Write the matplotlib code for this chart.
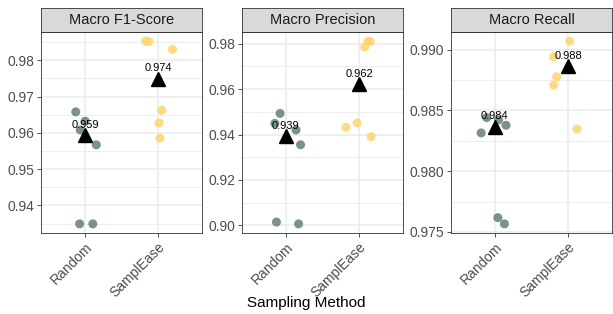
# Sampling method comparison: Random vs SamplEase, three macro metrics
import numpy as np
import matplotlib.pyplot as plt

plt.rcParams['font.family'] = ['Liberation Sans', 'DejaVu Sans']

methods = ["Random", "SamplEase"]
metrics = ["Macro F1-Score", "Macro Precision", "Macro Recall"]

# per-run scores (jitter offsets)
f1_random = [0.9658, 0.9632, 0.9608, 0.9567, 0.9349, 0.9349]
f1_random_jit = [-0.125, 0.004, -0.063, 0.156, -0.072, 0.108]
f1_samplease = [0.9853, 0.9852, 0.9830, 0.9662, 0.9627, 0.9586]
f1_samplease_jit = [-0.169, -0.125, 0.197, 0.05, 0.013, 0.027]

prec_random = [0.9493, 0.9449, 0.9420, 0.9355, 0.9015, 0.9007]
prec_random_jit = [-0.08, -0.151, 0.138, 0.2, -0.129, 0.173]
prec_samplease = [0.9811, 0.9809, 0.9785, 0.9432, 0.9451, 0.9391]
prec_samplease_jit = [0.12, 0.151, 0.076, -0.182, -0.027, 0.164]

rec_random = [0.98315, 0.98441, 0.98422, 0.98378, 0.97617, 0.97566]
rec_random_jit = [-0.188, -0.112, 0.049, 0.152, 0.04, 0.13]
rec_samplease = [0.99071, 0.98943, 0.98777, 0.98708, 0.98347]
rec_samplease_jit = [0.022, -0.197, -0.157, -0.197, 0.121]

# summary markers
f1_means = [0.9593, 0.9749]
prec_means = [0.9393, 0.9621]
rec_means = [0.98364, 0.98864]
f1_labels = ["0.959", "0.974"]
prec_labels = ["0.939", "0.962"]
rec_labels = ["0.984", "0.988"]

f1_ticks = [0.94, 0.95, 0.96, 0.97, 0.98]
prec_ticks = [0.90, 0.92, 0.94, 0.96, 0.98]
rec_ticks = [0.975, 0.980, 0.985, 0.990]

colors = {"Random": "#6A8878", "SamplEase": "#FFD46E"}

panels = [
    (metrics[0], f1_random, f1_random_jit, f1_samplease, f1_samplease_jit, f1_means, f1_labels, f1_ticks, "%.2f"),
    (metrics[1], prec_random, prec_random_jit, prec_samplease, prec_samplease_jit, prec_means, prec_labels, prec_ticks, "%.2f"),
    (metrics[2], rec_random, rec_random_jit, rec_samplease, rec_samplease_jit, rec_means, rec_labels, rec_ticks, "%.3f"),
]

fig = plt.figure(figsize=(6.13, 3.14), dpi=100)
lefts = [41, 242, 451]
width = 161
bottom, top, strip_top = 233, 32, 8
W, H = 613, 314

for i, (title, r, rj, s, sj, means, labels, ticks, fmt) in enumerate(panels):
    ax = fig.add_axes([lefts[i] / W, 1 - bottom / H, width / W, (bottom - top) / H])
    ax.set_facecolor("white")
    allv = r + s
    lo, hi = min(allv), max(allv)
    pad = (hi - lo) * 0.05
    ax.set_ylim(lo - pad, hi + pad)
    ax.set_xlim(0.4, 2.6)

    # grid
    step = ticks[1] - ticks[0]
    minor = [t + step / 2 for t in [ticks[0] - step] + ticks]
    for m in minor:
        ax.axhline(m, color="#EBEBEB", lw=0.6, zorder=0)
    for t in ticks:
        ax.axhline(t, color="#EBEBEB", lw=1.1, zorder=0)
    for x in [1, 2]:
        ax.axvline(x, color="#EBEBEB", lw=1.1, zorder=0)

    ax.scatter(1 + np.array(rj), r, s=42, color=colors["Random"], alpha=0.9,
               edgecolors="none", zorder=2)
    ax.scatter(2 + np.array(sj), s, s=42, color=colors["SamplEase"], alpha=0.85,
               edgecolors="none", zorder=2)
    ax.plot([1, 2], means, linestyle="none", marker="^", markersize=10,
            color="black", zorder=3)
    for x, m, lab in zip([1, 2], means, labels):
        ax.annotate(lab, (x, m), xytext=(0, 4), textcoords="offset points",
                    ha="center", va="bottom", fontsize=8, color="black", zorder=4)

    ax.set_yticks(ticks)
    ax.set_yticklabels([fmt % t for t in ticks])
    ax.set_xticks([1, 2])
    ax.set_xticklabels(methods, rotation=45, ha="right", rotation_mode="anchor")
    ax.tick_params(axis="both", colors="#333333", labelcolor="#4D4D4D",
                   labelsize=10, length=3, width=0.6, pad=2)
    for sp in ax.spines.values():
        sp.set_color("#333333")
        sp.set_linewidth(0.6)

    # facet strip
    sax = fig.add_axes([lefts[i] / W, 1 - top / H, width / W, (top - strip_top) / H])
    sax.set_facecolor("#D9D9D9")
    sax.set_xticks([])
    sax.set_yticks([])
    for sp in sax.spines.values():
        sp.set_color("#333333")
        sp.set_linewidth(0.6)
    sax.text(0.5, 0.5, title, ha="center", va="center", fontsize=10.5,
             color="#1A1A1A", transform=sax.transAxes)

fig.text(0.5, 0.035, "Sampling Method", ha="center", va="center", fontsize=11)

fig.savefig("out.png", dpi=100)
